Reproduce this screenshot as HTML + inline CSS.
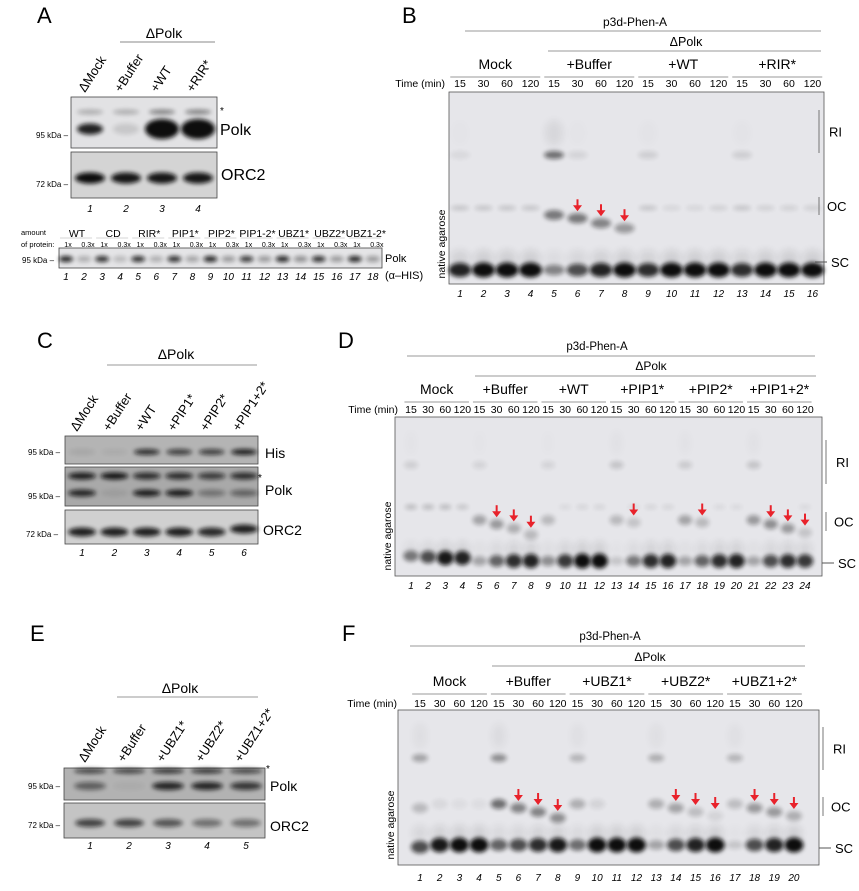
<!DOCTYPE html>
<html><head><meta charset="utf-8"><style>
html,body{margin:0;padding:0;background:#fff}
svg{display:block;font-family:"Liberation Sans",sans-serif}
.lt{font-size:22px}
.grp{font-size:14px}
.tm{font-size:10.5px}
.ln{font-size:10px;font-style:italic}
.kd{font-size:8px}
.pl{font-size:16px}
.rl{font-size:13px}
</style></head><body>
<svg id="fig" width="859" height="891" viewBox="0 0 859 891">
<defs>
<filter id="bl" x="-50%" y="-100%" width="200%" height="300%"><feGaussianBlur stdDeviation="2.2"/></filter>
<filter id="bl2" x="-50%" y="-100%" width="200%" height="300%"><feGaussianBlur stdDeviation="4"/></filter>
</defs>
<text class="lt" x="37" y="23">A</text>
<text class="lt" x="402" y="23">B</text>
<text class="lt" x="37" y="348">C</text>
<text class="lt" x="338" y="348">D</text>
<text class="lt" x="30" y="641">E</text>
<text class="lt" x="342" y="641">F</text>

<text class="grp" x="164" y="38" text-anchor="middle">ΔPolκ</text>
<line x1="120" y1="42" x2="215" y2="42" stroke="#888"/>
<g id="aBlots"></g>
<text class="pl" x="220" y="135">Polκ</text>
<text x="220" y="114" font-size="10">*</text>
<text class="pl" x="221" y="180">ORC2</text>
<text class="kd" x="36" y="138">95 kDa –</text>
<text class="kd" x="36" y="187">72 kDa –</text>
<text font-size="7.5" x="21" y="235">amount</text>
<text font-size="7.5" x="21" y="247">of protein:</text>
<text class="kd" x="22" y="263">95 kDa –</text>
<text font-size="11" x="385" y="262">Polκ</text>
<text font-size="11" x="385" y="279">(α–HIS)</text>

<text font-size="12" x="635" y="26" text-anchor="middle">p3d-Phen-A</text>
<line x1="465" y1="31" x2="821" y2="31" stroke="#999"/>
<text font-size="12.5" x="686" y="46" text-anchor="middle">ΔPolκ</text>
<line x1="548" y1="51" x2="821" y2="51" stroke="#999"/>
<text class="tm" x="445" y="87" text-anchor="end">Time (min)</text>
<g id="gelB"></g>

<text class="grp" x="176" y="359" text-anchor="middle">ΔPolκ</text>
<line x1="107" y1="365" x2="257" y2="365" stroke="#999"/>
<g id="cBlots"></g>
<text font-size="14" x="265" y="458">His</text>
<text x="258" y="481" font-size="10">*</text>
<text font-size="14" x="265" y="495">Polκ</text>
<text font-size="14" x="263" y="535">ORC2</text>
<text class="kd" x="28" y="455">95 kDa –</text>
<text class="kd" x="28" y="499">95 kDa –</text>
<text class="kd" x="26" y="537">72 kDa –</text>

<text font-size="11.5" x="597" y="350" text-anchor="middle">p3d-Phen-A</text>
<line x1="407" y1="356" x2="815" y2="356" stroke="#999"/>
<text font-size="12" x="651" y="370" text-anchor="middle">ΔPolκ</text>
<line x1="475" y1="376" x2="816" y2="376" stroke="#999"/>
<text class="tm" x="398" y="413" text-anchor="end">Time (min)</text>
<g id="gelD"></g>

<text class="grp" x="180" y="693" text-anchor="middle">ΔPolκ</text>
<line x1="117" y1="697" x2="258" y2="697" stroke="#999"/>
<g id="eBlots"></g>
<text x="266" y="772" font-size="10">*</text>
<text font-size="14" x="270" y="791">Polκ</text>
<text font-size="14" x="270" y="831">ORC2</text>
<text class="kd" x="28" y="789">95 kDa –</text>
<text class="kd" x="28" y="828">72 kDa –</text>

<text font-size="11.5" x="610" y="640" text-anchor="middle">p3d-Phen-A</text>
<line x1="410" y1="646" x2="805" y2="646" stroke="#999"/>
<text font-size="12" x="650" y="661" text-anchor="middle">ΔPolκ</text>
<line x1="492" y1="666" x2="805" y2="666" stroke="#999"/>
<text class="tm" x="397" y="707" text-anchor="end">Time (min)</text>
<g id="gelF"></g>
</svg>
<script>
var timeLabels = ["15","30","60","120"];
var aLanes = ["ΔMock","+Buffer","+WT","+RIR*"];
var aPolk = [0.9,0.12,1,1];
var aPolkUpper = [0.25,0.25,0.45,0.45];
var aOrc2 = [1,0.95,0.95,0.95];
var a2Groups = ["WT","CD","RIR*","PIP1*","PIP2*","PIP1-2*","UBZ1*","UBZ2*","UBZ1-2*"];
var a2Amounts = ["1x","0.3x"];
var a2His = [0.9,0.25,0.85,0.2,0.85,0.25,0.85,0.3,0.9,0.35,0.8,0.35,0.9,0.4,0.85,0.35,0.9,0.35];
var bGroups = ["Mock","+Buffer","+WT","+RIR*"];
var bSC = [0.9,1,1,1,0.45,0.7,0.9,1,0.85,1,1,1,0.85,1,1,1];
var bOC = [0.15,0.15,0.15,0.15,0,0,0,0,0.15,0.08,0.08,0.1,0.15,0.1,0.1,0.1];
var bShift = [0,0,0,0,0.5,0.5,0.45,0.35,0,0,0,0,0,0,0,0];
var bShiftMobility = [0,0,0,0,0,1,2.5,4,0,0,0,0,0,0,0,0];
var bRI = [0.06,0,0,0,0.55,0.08,0,0,0.1,0,0,0,0.1,0,0,0];
var bArrows = [6,7,8];
var cLanes = ["ΔMock","+Buffer","+WT","+PIP1*","+PIP2*","+PIP1+2*"];
var cHis = [0.08,0.05,0.8,0.7,0.7,0.9];
var cPolkUpper = [0.9,0.95,0.8,0.8,0.7,0.8];
var cPolk = [0.85,0.08,0.9,0.9,0.35,0.45];
var cOrc2 = [0.9,0.9,0.9,0.9,0.85,0.9];
var dGroups = ["Mock","+Buffer","+WT","+PIP1*","+PIP2*","+PIP1+2*"];
var dSC = [0.5,0.7,0.95,0.9,0.3,0.6,0.85,0.9,0.4,0.8,1,1,0.15,0.5,0.85,0.9,0.3,0.6,0.85,0.9,0.3,0.7,0.85,0.8];
var dOC = [0.2,0.2,0.2,0.15,0,0,0,0,0,0.06,0.08,0.08,0,0.06,0.08,0.08,0,0,0.06,0.06,0,0,0,0.06];
var dShift = [0,0,0,0,0.3,0.35,0.25,0.2,0.2,0,0,0,0.2,0.15,0,0,0.3,0.2,0,0,0.35,0.4,0.35,0.15];
var dShiftMobility = [0,0,0,0,0,1,2,3.5,0,0,0,0,0,0.6,0,0,0,0.6,0,0,0,1,2,3];
var dRI = [0.1,0,0,0,0.08,0,0,0,0.08,0,0,0,0.15,0,0,0,0.12,0,0,0,0.15,0,0,0];
var dArrows = [6,7,8,14,18,22,23,24];
var eLanes = ["ΔMock","+Buffer","+UBZ1*","+UBZ2*","+UBZ1+2*"];
var ePolkUpper = [0.7,0.7,0.8,0.8,0.7];
var ePolk = [0.5,0.04,0.85,0.85,0.75];
var eOrc2 = [0.7,0.7,0.6,0.45,0.45];
var fGroups = ["Mock","+Buffer","+UBZ1*","+UBZ2*","+UBZ1+2*"];
var fSC = [0.7,0.95,1,1,0.6,0.7,0.85,0.95,0.55,1,1,1,0.3,0.7,0.9,1,0.15,0.7,0.9,1];
var fShift = [0.2,0.06,0.04,0.04,0.55,0.45,0.45,0.4,0.25,0.08,0,0,0.25,0.3,0.18,0.08,0.18,0.35,0.35,0.25];
var fShiftMobility = [1,0,0,0,0,1,2,3.5,0,0,0,0,0,1,2,3,0,1,2,3];
var fRI = [0.3,0,0,0,0.4,0,0,0,0.22,0,0,0,0.25,0,0,0,0.22,0,0,0];
var fArrows = [6,7,8,14,15,16,18,19,20];

var NS = "http://www.w3.org/2000/svg";
function mk(tag, attrs, parent){
  var el = document.createElementNS(NS, tag);
  for (var k in attrs) el.setAttribute(k, attrs[k]);
  parent.appendChild(el);
  return el;
}
function txt(parent, x, y, s, cls, anchor){
  var t = mk("text", {x:x, y:y, "class":cls||"", "text-anchor":anchor||"middle"}, parent);
  t.textContent = s;
  return t;
}
function laneScale(x0, step){ return function(i){ return x0 + i*step; }; }
function band(parent, cx, cy, w, h, inten, name, blur){
  var el = mk("ellipse", {cx:cx, cy:cy, rx:w/2, ry:h/2, fill:"#111", opacity:Math.min(1,inten), filter:blur||"url(#bl)"}, parent);
  
  
  return el;
}
function arrow(parent, x, yTip, name){
  var g = mk("g", {}, parent);
  
  
  mk("line", {x1:x, y1:yTip-12, x2:x, y2:yTip-5, stroke:"#e8222b", "stroke-width":2}, g);
  mk("polygon", {points:(x-4.5)+","+(yTip-6)+" "+(x+4.5)+","+(yTip-6)+" "+x+","+yTip, fill:"#e8222b"}, g);
}
function blotBox(parent, x, y, w, h, bg, name){
  var r = mk("rect", {x:x, y:y, width:w, height:h, fill:bg, stroke:"#444", "stroke-width":0.8}, parent);
  
  
}
function rotLabels(parent, labels, xs, yb, prefix){
  labels.forEach(function(s,i){
    var t = mk("text", {x:0, y:0, "font-size":13, transform:"translate("+(xs(i)-5)+","+yb+") rotate(-57)"}, parent);
    t.textContent = s;
    
    
  });
}
function laneNums(parent, n, xs, y, prefix){
  for (var i=0;i<n;i++){
    var t = txt(parent, xs(i), y, String(i+1), "ln");
    
    
  }
}

(function(){
  var g = document.getElementById("aBlots");
  var xs = laneScale(90, 36);
  rotLabels(g, aLanes, xs, 93, "a");
  blotBox(g, 71, 97, 146, 51, "#e2e2e4", "a-polk-blot");
  aPolkUpper.forEach(function(v,i){ band(g, xs(i), 112, 26, 5, v, "a-polk-upper-band"); });
  aPolk.forEach(function(v,i){ band(g, xs(i), 129, i>1?34:26, i>1?20:11, v, "a-polk-band"); });
  blotBox(g, 71, 152, 146, 46, "#d4d4d4", "a-orc2-blot");
  aOrc2.forEach(function(v,i){ band(g, xs(i), 178, 30, 11, v, "a-orc2-band"); });
  laneNums(g, 4, xs, 212, "a");
  var xs2 = laneScale(66, 18.05);
  a2Groups.forEach(function(s,i){
    var t = txt(g, (xs2(2*i)+xs2(2*i+1))/2 + 2, 237, s, "", "middle");
    t.setAttribute('font-size', 10.5);
    
    
    var ln = mk("line", {x1:xs2(2*i)-6, y1:238, x2:xs2(2*i+1)+8, y2:238, stroke:"#aaa", "stroke-width":0.6}, g);
    
    
  });
  for (var i=0;i<18;i++){
    var t = txt(g, xs2(i)+(i%2?4:2), 247, a2Amounts[i%2], "", "middle");
    t.setAttribute('font-size', 7);
    
    
  }
  blotBox(g, 59, 248, 323, 20, "#e4e4e6", "a2-his-blot");
  a2His.forEach(function(v,i){ band(g, xs2(i), 259, 14, 6, v, "a2-his-band"); });
  laneNums(g, 18, xs2, 280, "a2");
})();

(function(){
  var g = document.getElementById("cBlots");
  var xs = laneScale(82, 32.4);
  rotLabels(g, cLanes, xs, 432, "c");
  blotBox(g, 65, 436, 193, 28, "#b4b4b4", "c-his-blot");
  cHis.forEach(function(v,i){ band(g, xs(i), 452, 26, 6, v, "c-his-band"); });
  blotBox(g, 65, 467, 193, 39, "#a9a9a9", "c-polk-blot");
  cPolkUpper.forEach(function(v,i){ band(g, xs(i), 476, 28, 7, v, "c-polk-upper-band"); });
  cPolk.forEach(function(v,i){ band(g, xs(i), 493, 28, 7, v, "c-polk-band"); });
  blotBox(g, 65, 510, 193, 34, "#d0d0d0", "c-orc2-blot");
  cOrc2.forEach(function(v,i){ band(g, xs(i), 532 - (i===5?3:0), 28, 9, v, "c-orc2-band"); });
  laneNums(g, 6, xs, 556, "c");
})();

(function(){
  var g = document.getElementById("eBlots");
  var xs = laneScale(90, 39);
  rotLabels(g, eLanes, xs, 763, "e");
  blotBox(g, 64, 768, 201, 32, "#b2b2b2", "e-polk-blot");
  ePolkUpper.forEach(function(v,i){ band(g, xs(i), 771, 32, 5, v, "e-polk-upper-band"); });
  ePolk.forEach(function(v,i){ band(g, xs(i), 786, 32, 8, v, "e-polk-band"); });
  blotBox(g, 64, 803, 201, 35, "#c4c4c4", "e-orc2-blot");
  eOrc2.forEach(function(v,i){ band(g, xs(i), 823, 30, 8, v, "e-orc2-band"); });
  laneNums(g, 5, xs, 849, "e");
})();

function drawGel(cfg){
  var g = document.getElementById(cfg.id);
  var xs = laneScale(cfg.x0, cfg.step);
  var n = cfg.sc.length;
  cfg.groups.forEach(function(s,k){
    var a = xs(4*k) - cfg.step*0.5 + 2, b = xs(4*k+3) + cfg.step*0.5 - 2;
    var t = txt(g, (a+b)/2, cfg.groupY, s, "grp");
    t.setAttribute('font-size', cfg.groupFs);
    
    
    var ln = mk("line", {x1:a, y1:cfg.groupY+8, x2:b, y2:cfg.groupY+8, stroke:"#999"}, g);
    
    
  });
  for (var i=0;i<n;i++){
    var t = txt(g, xs(i), cfg.timeY, timeLabels[i%4], "tm");
    
    
  }
  var bg = mk("rect", {x:cfg.gx, y:cfg.gy, width:cfg.gw, height:cfg.gh, fill:"#e6e6ea", stroke:"#555", "stroke-width":0.8}, g);
  
  
  var clip = mk("g", {}, g);
  for (var i=0;i<n;i++){
    var x = xs(i);
    if (cfg.sc[i] > 0) band(clip, x, cfg.scY - 12, cfg.bw, 16, cfg.sc[i]*0.1, "smear", "url(#bl2)");
    band(clip, x, cfg.scY + (cfg.scOff ? cfg.scOff[i] : 0), cfg.bw + cfg.sc[i]*3, 7 + cfg.sc[i]*8, cfg.sc[i], "sc-band");
    if (cfg.oc && cfg.oc[i] > 0) band(clip, x, cfg.ocY, cfg.bw-2, 5, cfg.oc[i], "oc-band");
    if (cfg.shift[i] > 0) band(clip, x, cfg.shY + cfg.mob[i]*cfg.mobPx, cfg.bw, 10, cfg.shift[i], "shifted-oc-band");
    if (cfg.ri[i] > 0){
      band(clip, x, cfg.riY, cfg.bw, 8, cfg.ri[i], "ri-band");
      band(clip, x, cfg.riY - 22, cfg.bw-2, 26, cfg.ri[i]*0.12, "ri-smear", "url(#bl2)");
    }
  }
  cfg.arrows.forEach(function(l){
    arrow(g, xs(l-1), cfg.shY + cfg.mob[l-1]*cfg.mobPx - 7, "red-arrow-lane-"+l);
  });
  for (var i=0;i<n;i++){
    var t = txt(g, xs(i), cfg.numY, String(i+1), "ln");
    
    
  }
  var r = cfg.side;
  var l1 = mk("line", {x1:r.bx, y1:r.ri[0], x2:r.bx, y2:r.ri[1], stroke:"#777"}, g);
  
  
  var t1 = txt(g, r.bx+10, (r.ri[0]+r.ri[1])/2+5, "RI", "", "start"); t1.setAttribute('font-size', 13);
  
  
  var l2 = mk("line", {x1:r.bx, y1:r.oc[0], x2:r.bx, y2:r.oc[1], stroke:"#777"}, g);
  
  
  var t2 = txt(g, r.bx+8, (r.oc[0]+r.oc[1])/2+5, "OC", "", "start"); t2.setAttribute('font-size', 13);
  
  
  var l3 = mk("line", {x1:r.bx-4, y1:r.sc, x2:r.bx+8, y2:r.sc, stroke:"#555"}, g);
  
  
  var t3 = txt(g, r.bx+12, r.sc+5, "SC", "", "start"); t3.setAttribute('font-size', 13);
  
  
  var na = mk("text", {x:0, y:0, "font-size":10.5, "text-anchor":"middle", transform:"translate("+(cfg.gx-4)+","+(cfg.gy+cfg.gh-40)+") rotate(-90)"}, g);
  na.textContent = "native agarose";
  
  
}

drawGel({id:"gelB", x0:460, step:23.5, bw:20, groups:bGroups, groupY:69, groupFs:14, timeY:87,
  gx:449, gy:92, gw:375, gh:192, sc:bSC, scY:270, oc:bOC, ocY:208, shift:bShift, shY:215, mob:bShiftMobility, mobPx:3.3,
  ri:bRI, riY:155, arrows:bArrows, numY:297,
  side:{bx:819, ri:[110,153], oc:[197,215], sc:262}});

drawGel({id:"gelD", x0:411, step:17.13, bw:14, groups:dGroups, groupY:394, groupFs:13, timeY:413,
  gx:395, gy:417, gw:427, gh:159, sc:dSC, scY:561, scOff:[-5,-4,-3,-3,0,0,0,0,0,0,0,0,0,0,0,0,0,0,0,0,0,0,0,0],
  oc:dOC, ocY:507, shift:dShift, shY:520, mob:dShiftMobility, mobPx:4.2,
  ri:dRI, riY:465, arrows:dArrows, numY:589,
  side:{bx:826, ri:[440,484], oc:[512,531], sc:563}});

drawGel({id:"gelF", x0:420, step:19.68, bw:16, groups:fGroups, groupY:686, groupFs:13, timeY:707,
  gx:398, gy:710, gw:421, gh:155, sc:fSC, scY:845, scOff:[2,0,0,0,0,0,0,0,0,0,0,0,0,0,0,0,0,0,0,0],
  oc:null, ocY:0, shift:fShift, shY:804, mob:fShiftMobility, mobPx:4,
  ri:fRI, riY:758, arrows:fArrows, numY:881,
  side:{bx:823, ri:[727,770], oc:[797,816], sc:848}});
</script>
</body></html>
